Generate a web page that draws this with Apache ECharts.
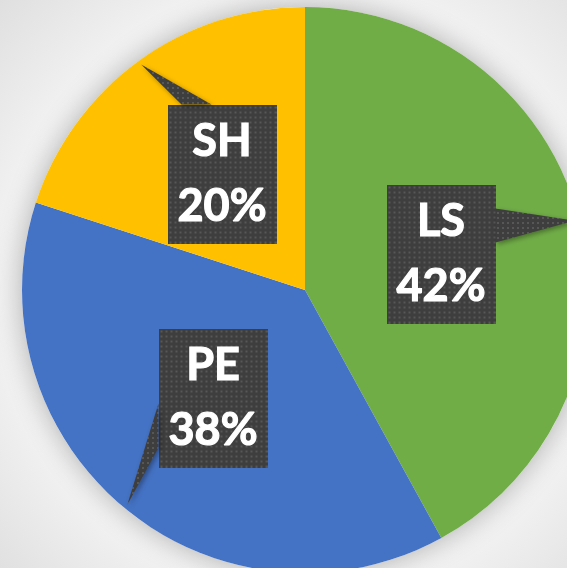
<!DOCTYPE html>
<html lang="en">
<head>
<meta charset="UTF-8">
<title>Share pie</title>
<script src="https://cdn.jsdelivr.net/npm/echarts@6/dist/echarts.min.js"></script>
<style>
    html, body { margin: 0; padding: 0; }
    #chart { width: 567px; height: 568px; }
</style>
</head>
<body>
<div id="chart"></div>
<script>
// data
const categories = ['LS', 'PE', 'SH'];
const shares = [42, 38, 20];
const sliceColors = ['#70AD47', '#4472C4', '#FFC000'];

// layout (pixels)
const CX = 305, CY = 290, R = 283;
const BOX_W = 109, BOX_H = 139;
// callout box centres and the box edge where the pointer starts
const boxes = [
    { x: 441, y: 254, side: 'right', b0: 24, b1: 58 },
    { x: 213, y: 398, side: 'left', b0: 75, b1: 119 },
    { x: 222, y: 174, side: 'top', b0: 14, b1: 44 }
];

function dotCanvas(w, h) {
    const c = document.createElement('canvas');
    c.width = w; c.height = h;
    const g = c.getContext('2d');
    g.fillStyle = '#3e3e3e';
    g.fillRect(0, 0, w, h);
    g.fillStyle = '#575757';
    for (let y = 2; y < h; y += 5) {
        for (let x = 2; x < w; x += 5) g.fillRect(x, y, 2, 2);
    }
    return c;
}
const boxImage = dotCanvas(BOX_W, BOX_H);
const tile = dotCanvas(5, 5);

// pointer triangles: tip sits on the slice's middle angle near the rim
const total = shares.reduce((a, b) => a + b, 0);
let cum = 0;
const pointers = shares.map((v, i) => {
    const mid = (cum + v / 2) / total * 2 * Math.PI;
    cum += v;
    const rt = R * 0.985;
    const tip = [CX + rt * Math.sin(mid), CY - rt * Math.cos(mid)];
    const b = boxes[i];
    const left = b.x - BOX_W / 2, top = b.y - BOX_H / 2;
    let p0, p1;
    if (b.side === 'right') { p0 = [left + BOX_W, top + b.b0]; p1 = [left + BOX_W, top + b.b1]; }
    else if (b.side === 'left') { p0 = [left, top + b.b0]; p1 = [left, top + b.b1]; }
    else { p0 = [left + b.b0, top]; p1 = [left + b.b1, top]; }
    return {
        type: 'polygon',
        z: 5,
        silent: true,
        shape: { points: [p0, p1, tip] },
        style: {
            fill: { image: tile, repeat: 'repeat' },
            shadowBlur: 5,
            shadowOffsetX: 2,
            shadowOffsetY: 2,
            shadowColor: 'rgba(0,0,0,0.35)'
        }
    };
});

const chart = echarts.init(document.getElementById('chart'));
chart.setOption({
    animation: false,
    backgroundColor: {
        type: 'radial', x: 0.54, y: 0.51, r: 0.78,
        colorStops: [
            { offset: 0, color: '#ffffff' },
            { offset: 0.62, color: '#f6f6f6' },
            { offset: 1, color: '#dcdcdc' }
        ]
    },
    graphic: pointers,
    series: [
        {
            // soft glow under the pie
            type: 'pie',
            silent: true,
            z: 1,
            center: [CX, CY],
            radius: R,
            label: { show: false },
            labelLine: { show: false },
            data: [{ value: total, itemStyle: { color: '#ffffff', shadowBlur: 28, shadowColor: 'rgba(0,0,0,0.3)' } }]
        },
        {
            type: 'pie',
            z: 2,
            center: [CX, CY],
            radius: R,
            startAngle: 90,
            clockwise: true,
            avoidLabelOverlap: false,
            itemStyle: { borderWidth: 0 },
            label: {
                show: true,
                position: 'outside',
                formatter: p => p.name + '\n' + Math.round(p.percent) + '%',
                color: '#ffffff',
                fontFamily: 'Lato',
                fontWeight: 'bold',
                fontSize: 45,
                lineHeight: 65,
                textBorderColor: '#ffffff',
                textBorderWidth: 1.2,
                width: BOX_W,
                height: BOX_H - 8,
                padding: [8, 0, 0, 0],
                align: 'center',
                backgroundColor: { image: boxImage },
                shadowBlur: 6,
                shadowOffsetX: 3,
                shadowOffsetY: 3,
                shadowColor: 'rgba(0,0,0,0.4)'
            },
            labelLine: { show: false },
            labelLayout: p => ({
                x: boxes[p.dataIndex].x,
                y: boxes[p.dataIndex].y,
                align: 'center',
                verticalAlign: 'middle'
            }),
            data: categories.map((c, i) => ({
                name: c,
                value: shares[i],
                itemStyle: { color: sliceColors[i] }
            }))
        }
    ]
});
</script>
</body>
</html>
